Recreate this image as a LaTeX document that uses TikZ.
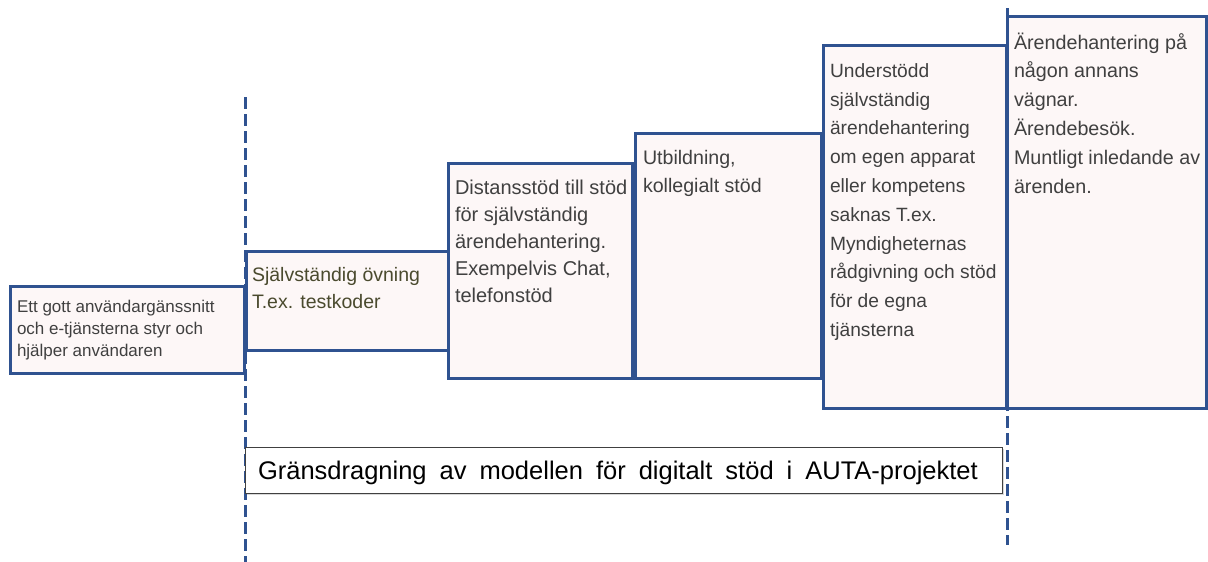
\documentclass[tikz,border=0pt]{standalone}
\usepackage{fontspec}
\setmainfont{Liberation Sans}
\usetikzlibrary{shadows}
\definecolor{bord}{HTML}{2F5290}
\definecolor{boxfill}{HTML}{FDF7F7}
\definecolor{txtgray}{HTML}{404040}
\definecolor{txtolive}{HTML}{4A4A2E}
\begin{document}
\begin{tikzpicture}[x=1pt,y=-1pt,
  stepbox/.style={draw=bord, line width=3pt, fill=boxfill, inner sep=0pt, outer sep=0pt, anchor=north west,
    drop shadow={shadow xshift=2pt, shadow yshift=-2pt, opacity=0.22, fill=black}},
  boxtext/.style={inner sep=0pt, outer sep=0pt, anchor=base west, text=txtgray},
  limitline/.style={draw=bord, line width=3pt, dash pattern=on 12pt off 5pt},
  labelbox/.style={draw=black!75, line width=0.8pt, fill=white, inner sep=0pt, outer sep=0pt, anchor=north west,
    drop shadow={shadow xshift=1.5pt, shadow yshift=-1.5pt, opacity=0.15, fill=black}}]
\useasboundingbox (0,0) rectangle (1208,562);

% boundary lines
\coordinate (l1) at (245.5,97);
\coordinate (l2) at (245.5,562);
\coordinate (r1) at (1007,8);
\coordinate (r2) at (1007,545);
\draw[limitline] (l1) -- (l2);
\draw[limitline] (r1) -- (r2);

% step boxes
\node[stepbox, minimum width=234pt, minimum height=87pt]  (b1) at (10,286) {};
\node[stepbox, minimum width=202pt, minimum height=99pt]  (b2) at (246,251) {};
\node[stepbox, minimum width=184pt, minimum height=215pt] (b3) at (448,163) {};
\node[stepbox, minimum width=186pt, minimum height=245pt] (b4) at (635,133) {};
\node[stepbox, minimum width=183pt, minimum height=363pt] (b5) at (823,45) {};
\node[stepbox, minimum width=199pt, minimum height=392pt] (b6) at (1007,16) {};

% texts
\node[boxtext] (t1) at (17,312.7) {\parbox[t]{230pt}{\fontsize{17}{22}\selectfont\raggedright
  Ett gott användargänssnitt\\och e-tjänsterna styr och\\hjälper användaren}};
\node[boxtext, text=txtolive] (t2) at (252,281) {\parbox[t]{200pt}{\fontsize{19.5}{27}\selectfont\raggedright
  Självständig övning\\T.ex. testkoder}};
\node[boxtext] (t3) at (455,194) {\parbox[t]{200pt}{\fontsize{20}{27}\selectfont\raggedright
  Distansstöd till stöd\\för självständig\\ärendehantering.\\Exempelvis Chat,\\telefonstöd}};
\node[boxtext] (t4) at (643,164.3) {\parbox[t]{200pt}{\fontsize{19.6}{28}\selectfont\raggedright
  Utbildning,\\kollegialt stöd}};
\node[boxtext] (t5) at (830,77.3) {\parbox[t]{200pt}{\fontsize{19.2}{28.8}\selectfont\raggedright
  Understödd\\självständig\\ärendehantering\\om egen apparat\\eller kompetens\\saknas T.ex.\\Myndigheternas\\rådgivning och stöd\\för de egna\\tjänsterna}};
\node[boxtext] (t6) at (1014,49) {\parbox[t]{200pt}{\fontsize{19.7}{28.8}\selectfont\raggedright
  Ärendehantering på\\någon annans\\vägnar.\\Ärendebesök.\\Muntligt inledande av\\ärenden.}};

% bottom label
\node[labelbox, minimum width=757pt, minimum height=46pt] (lab) at (245,447) {};
\node[boxtext, text=black] (labtext) at (258,479.3) {\fontsize{25.5}{30}\selectfont\spaceskip=13pt\relax
  Gränsdragning av modellen för digitalt stöd i AUTA-projektet};
\end{tikzpicture}
\end{document}
